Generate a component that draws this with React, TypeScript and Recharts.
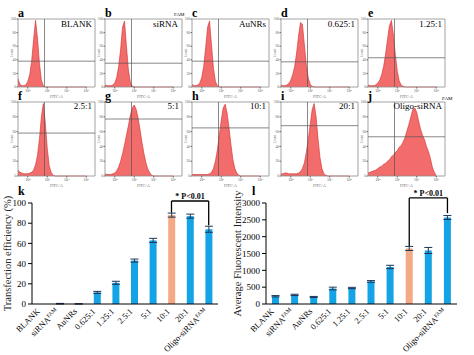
import React from 'react'
import {
  AreaChart, Area, BarChart, Bar, Cell, ErrorBar, XAxis, YAxis,
  ReferenceLine, ReferenceArea,
} from 'recharts'

// flow cytometry: log10(FITC-A) bins, counts as % of panel max
const bins = [1.5, 1.6, 1.7, 1.8, 1.9, 2.0, 2.1, 2.2, 2.3, 2.4, 2.5, 2.6, 2.7, 2.8, 2.9, 3.0, 3.1, 3.2, 3.3, 3.4, 3.5, 3.6, 3.7, 3.8, 3.9, 4.0, 4.1, 4.2, 4.3, 4.4, 4.5, 4.6, 4.7, 4.8, 4.9, 5.0]

const blankCounts = [12, 4, 2, 2, 3, 8, 18, 38, 70, 98, 72, 35, 10, 2, 0]
const sirnaCounts = [3, 2, 2, 2, 3, 6, 14, 30, 55, 88, 97, 60, 25, 7, 1]
const aunrCounts = [4, 2, 2, 3, 6, 14, 30, 58, 88, 97, 62, 28, 8, 2, 0]
const r0625Counts = [3, 2, 2, 3, 5, 10, 18, 30, 50, 75, 95, 92, 62, 32, 13, 4, 1]
const r125Counts = [3, 2, 2, 2, 3, 6, 10, 18, 30, 48, 70, 90, 98, 78, 48, 24, 9, 3, 1]
const r25Counts = [8, 5, 4, 3, 3, 3, 4, 5, 8, 15, 28, 50, 80, 98, 72, 38, 14, 5, 1]
const r5Counts = [3, 2, 2, 2, 3, 4, 7, 12, 20, 30, 42, 55, 68, 82, 92, 96, 90, 78, 62, 45, 30, 18, 9, 4, 1]
const r10Counts = [2, 2, 2, 2, 2, 2, 2, 2, 2, 3, 5, 10, 20, 35, 55, 75, 92, 97, 85, 65, 42, 22, 10, 4, 1]
const r20Counts = [3, 3, 4, 4, 3, 3, 3, 3, 3, 4, 6, 10, 18, 32, 50, 70, 90, 98, 80, 50, 25, 10, 3, 1]
const oligoCounts = [4, 5, 6, 7, 8, 10, 12, 13, 16, 17, 20, 22, 26, 28, 32, 34, 39, 41, 46, 52, 61, 70, 80, 90, 92, 86, 74, 63, 55, 49, 40, 33, 24, 12, 5, 1]

const panelCounts = [blankCounts, sirnaCounts, aunrCounts, r0625Counts, r125Counts, r25Counts, r5Counts, r10Counts, r20Counts, oligoCounts]
const panelLetters = ['a', 'b', 'c', 'd', 'e', 'f', 'g', 'h', 'i', 'j']
const panelTitles = ['BLANK', 'siRNA', 'AuNRs', '0.625:1', '1.25:1', '2.5:1', '5:1', '10:1', '20:1', 'Oligo-siRNA']
const gateX = 2.86
const gateY = [38, 35, 38, 37, 43, 58, 77, 65, 68, 53]
const logTicks = [2, 3, 4, 5]
const logTickLabels = ['10²', '10³', '10⁴', '10⁵']

// bar charts k and l
const groups = ['BLANK', 'siRNA^FAM', 'AuNRs', '0.625:1', '1.25:1', '2.5:1', '5:1', '10:1', '20:1', 'Oligo-siRNA^FAM']
const efficiency = [0, 0.3, 0.1, 11.5, 21, 43, 63, 88, 87, 74]
const efficiencyErr = [0, 0.3, 0.1, 1, 1.5, 1.5, 2, 2, 2, 3]
const intensity = [230, 270, 210, 460, 475, 670, 1100, 1650, 1590, 2570]
const intensityErr = [20, 20, 15, 40, 20, 25, 50, 60, 90, 60]

const BLUE = '#14a4e6'
const ORANGE = '#f3aa84'
const serif = "'Liberation Serif', 'Times New Roman', serif"

const colLeft = [18, 105, 192, 281, 368]
const rowTop = [19, 102]
const rowH = [68, 74]
const PW = 77

function Histogram({ counts, gate, left, top, h }: { counts: number[]; gate: number; left: number; top: number; h: number }) {
  const data = bins.map((b, i) => ({ x: b, v: counts[i] ?? 0 }))
  return (
    <div style={{ position: 'absolute', left: left - 8, top: top - 2 }}>
      <AreaChart width={8 + PW + 2} height={2 + h + 12} data={data} margin={{ top: 2, right: 2, left: 0, bottom: 0 }}>
        <XAxis
          dataKey="x" type="number" domain={[1.5, 5.45]} ticks={logTicks} allowDataOverflow
          tickFormatter={(v: number) => logTickLabels[logTicks.indexOf(v)] ?? ''}
          tick={{ fontSize: 4, fill: '#555' }} tickSize={1.5} tickMargin={0.5} axisLine={false} height={12}
          label={{ value: 'FITC-A', position: 'insideBottom', offset: 1, fontSize: 4, fill: '#666' }}
        />
        <YAxis
          type="number" domain={[0, 100]} ticks={[0, 20, 40, 60, 80, 100]} width={8}
          tick={{ fontSize: 3.5, fill: '#666' }} tickSize={1.5} tickMargin={0.5} axisLine={false}
          label={{ value: 'Count', angle: -90, position: 'insideLeft', offset: 2, fontSize: 3.5, fill: '#666', style: { textAnchor: 'middle' } }}
        />
        <Area type="linear" dataKey="v" stroke="#d42a2a" strokeWidth={0.6} fill="#f36c6c" fillOpacity={1} dot={false} activeDot={false} isAnimationActive={false} />
        <ReferenceArea x1={1.5} x2={5.45} y1={0} y2={100} fill="none" stroke="#8a8a8a" strokeWidth={0.8} ifOverflow="visible" />
        <ReferenceLine x={gateX} stroke="#555" strokeWidth={0.7} />
        <ReferenceLine y={gate} stroke="#555" strokeWidth={0.7} />
      </AreaChart>
    </div>
  )
}

function GroupTick({ x, y, payload }: any) {
  const [base, sup] = String(payload.value).split('^')
  return (
    <g transform={`translate(${x - 1},${y + 8}) rotate(-45)`}>
      <text x={0} y={0} textAnchor="end" fontSize={8.5} fill="#000" fontFamily={serif}>
        {base}
        {sup && <tspan fontSize={5.5} dy={-3}>{sup}</tspan>}
      </text>
    </g>
  )
}

function GroupBars({ values, errs, yMax, yStep, label, left, width, right, labelOffset, bracket }: {
  values: number[]; errs: number[]; yMax: number; yStep: number; label: string
  left: number; width: number; right: number; labelOffset: number; bracket: [number, number, number]
}) {
  const data = groups.map((g, i) => ({ name: g, value: values[i], err: errs[i] }))
  const ticks: number[] = []
  for (let t = 0; t <= yMax; t += yStep) ticks.push(t)
  const [top, leftFoot, rightFoot] = bracket
  const a = '10:1'
  const b = 'Oligo-siRNA^FAM'
  return (
    <div style={{ position: 'absolute', left, top: 185 }}>
      <BarChart width={width} height={170} data={data} margin={{ top: 18, right, left: 0, bottom: 0 }}>
        <XAxis dataKey="name" interval={0} height={51} tickLine={false} tickSize={0} tickMargin={0} axisLine={{ stroke: '#000' }} tick={<GroupTick />} />
        <YAxis
          domain={[0, yMax]} ticks={ticks} width={left === 0 ? 32 : 34} tickSize={4} tickMargin={2}
          axisLine={{ stroke: '#000' }} tickLine={{ stroke: '#000' }}
          tick={{ fontSize: 9, fill: '#000', fontFamily: serif }}
          label={{ value: label, angle: -90, position: 'insideLeft', offset: labelOffset, fontSize: 10.5, fill: '#222', fontFamily: serif, style: { textAnchor: 'middle' } }}
        />
        <Bar dataKey="value" barSize={7} isAnimationActive={false}>
          {data.map((d) => <Cell key={d.name} fill={d.name === '10:1' ? ORANGE : BLUE} />)}
          <ErrorBar dataKey="err" width={4} stroke="#1d3557" strokeWidth={1} />
        </Bar>
        <ReferenceLine segment={[{ x: a, y: leftFoot }, { x: a, y: top }]} stroke="#000" strokeWidth={1.3} ifOverflow="visible" />
        <ReferenceLine
          segment={[{ x: a, y: top }, { x: b, y: top }]} stroke="#000" strokeWidth={1.3} ifOverflow="visible"
          label={{ value: '* P<0.01', position: 'top', offset: 2, fontSize: 8, fontWeight: 'bold', fill: '#000', fontFamily: serif }}
        />
        <ReferenceLine segment={[{ x: b, y: top }, { x: b, y: rightFoot }]} stroke="#000" strokeWidth={1.3} ifOverflow="visible" />
      </BarChart>
    </div>
  )
}

const letterStyle: React.CSSProperties = { position: 'absolute', fontSize: 12, fontWeight: 'bold', lineHeight: '12px', fontFamily: serif }
const titleStyle: React.CSSProperties = { position: 'absolute', fontSize: 9, lineHeight: '10px', textAlign: 'right', fontFamily: serif, whiteSpace: 'nowrap' }
const supStyle: React.CSSProperties = { position: 'absolute', fontSize: 5, lineHeight: '5px', fontFamily: serif }

export default function App() {
  return (
    <div style={{ position: 'absolute', left: 0, top: 0, width: 474, height: 355, background: '#fff', fontFamily: serif, overflow: 'hidden' }}>
      {panelCounts.map((counts, i) => {
        const row = i < 5 ? 0 : 1
        const L = colLeft[i % 5]
        const T = rowTop[row]
        return (
          <React.Fragment key={i}>
            <Histogram counts={counts} gate={gateY[i]} left={L} top={T} h={rowH[row]} />
            <div style={{ ...letterStyle, left: L, top: row === 0 ? 6.5 : 90 }}>{panelLetters[i]}</div>
            <div style={{ ...titleStyle, left: L, width: i === 1 ? 73 : PW - 3, top: row === 0 ? T : T - 1 }}>{panelTitles[i]}</div>
          </React.Fragment>
        )
      })}
      <div style={{ ...supStyle, left: 174, top: 12 }}>FAM</div>
      <div style={{ ...supStyle, left: 442, top: 96 }}>FAM</div>

      <GroupBars values={efficiency} errs={efficiencyErr} yMax={100} yStep={10} label="Transfection efficiency (%)"
        left={0} width={225} right={7} labelOffset={7} bracket={[102, 90.5, 78]} />
      <GroupBars values={intensity} errs={intensityErr} yMax={3000} yStep={500} label="Average Fluorescent Intensity"
        left={232} width={242} right={17} labelOffset={5.5} bracket={[3150, 1720, 2700]} />
      <div style={{ ...letterStyle, left: 18, top: 185 }}>k</div>
      <div style={{ ...letterStyle, left: 252, top: 185 }}>l</div>
    </div>
  )
}
